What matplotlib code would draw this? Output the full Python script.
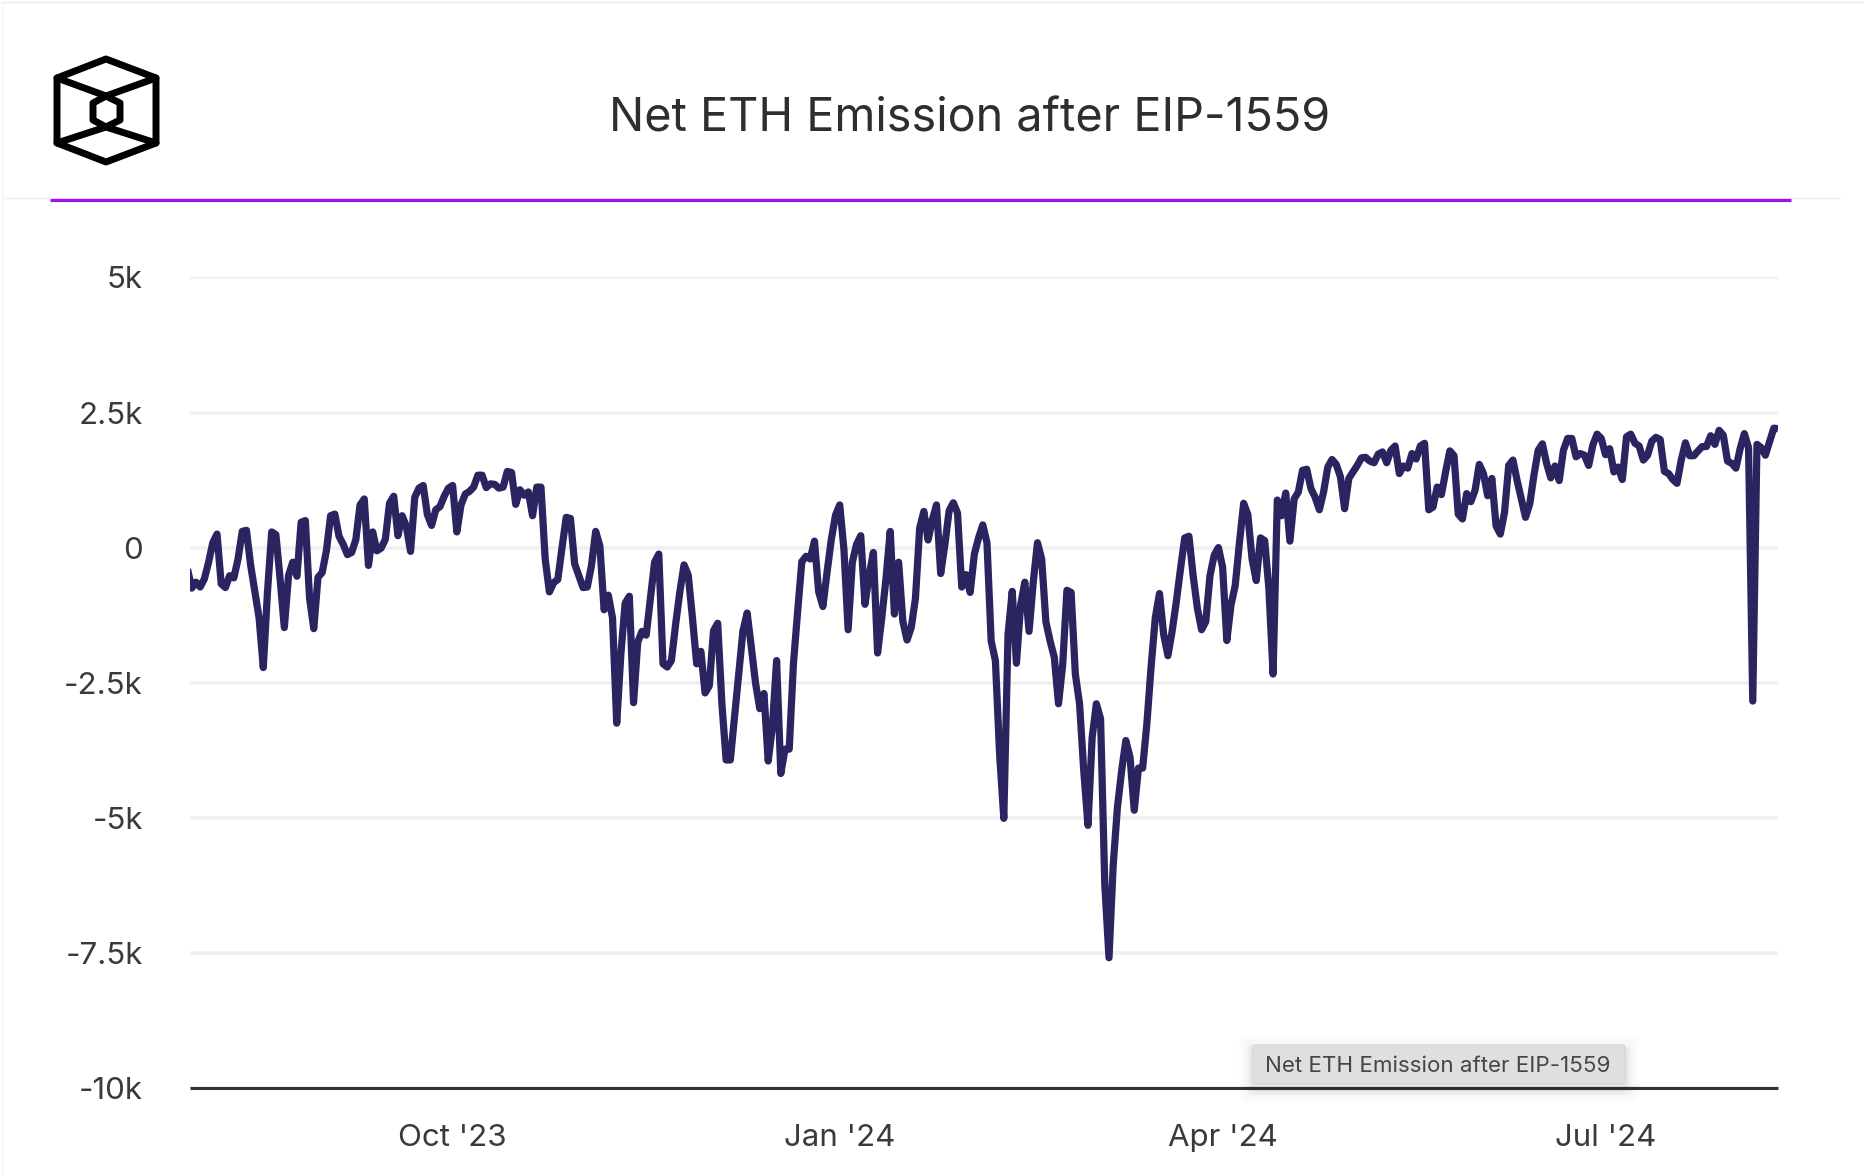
import matplotlib
matplotlib.use("Agg")
import matplotlib.pyplot as plt
import pandas as pd
from matplotlib.patches import FancyBboxPatch, Polygon
from matplotlib.lines import Line2D

W, H = 1866, 1176
TITLE = "Net ETH Emission after EIP-1559"
START_DATE = "2023-07-30"

net_emission_aug_oct = [
    -400, -750, -640, -730, -580, -270, 90, 250, -670, -740, -520, -560, -210, 300, 320, -330, -820, -1300, -2220,
    -820, 290, 240, -580, -1480, -520, -270, -530, 470, 500, -940, -1500, -550, -460, -60, 590, 620, 210, 60,
    -130, -90, 150, 790, 900, -330, 290, -60, -10, 150, 820, 950, 220, 590, 390, -70, 930, 1100, 1150, 610, 410,
    700, 760, 950, 1100, 1150, 290, 790, 990, 1040, 1120, 1340, 1340, 1110, 1180, 1170, 1100, 1120, 1410, 1390,
    800, 1070, 970, 1030, 590, 1120, 1120, -210, -820, -650, -590, 0, 560, 540, -300, -520, -740, -730,
]
net_emission_nov_jan = [
    -330, 300, 30, -1150, -880, -1300, -3250, -1960, -1030, -900, -2870, -1750, -1550, -1620, -940, -270, -120,
    -2150, -2210, -2090, -1420, -820, -320, -510, -1300, -2150, -1920, -2690, -2560, -1540, -1400, -2890, -3930,
    -3930, -3130, -2330, -1540, -1210, -1850, -2510, -2980, -2700, -3950, -3320, -2090, -4180, -3730, -3730,
    -2150, -1180, -260, -160, -210, 120, -820, -1090, -450, 150, 600, 790, -30, -1520, -270, 60, 220, -1050, -510,
    -90, -1950, -1300, -570, 300, -1230, -270, -1360, -1710, -1480, -940, 360, 670, 140, 510, 790, -480, 60, 680,
    830, 640, -730, -500, -830, -120, 180, 420, 90,
]
net_emission_feb_apr = [
    -1730, -2090, -3820, -5010, -1610, -810, -2140, -1060, -640, -1550, -640, 90, -210, -1370, -1730, -2030,
    -2890, -2160, -790, -830, -2340, -2890, -4130, -5140, -3510, -2890, -3170, -6240, -7590, -5870, -4810, -4130,
    -3570, -3880, -4860, -4080, -4080, -3260, -2210, -1300, -850, -1610, -2000, -1550, -1000, -390, 180, 210,
    -520, -1120, -1520, -1370, -520, -140, 0, -360, -1720, -1060, -700, 90, 820, 610, -210, -610, 180, 130, -760,
    -2340, 880, 590,
]
net_emission_apr_aug = [
    1010, 120, 900, 1030, 1430, 1450, 1090, 930, 700, 1030, 1490, 1630, 1540, 1310, 720, 1280, 1400, 1520, 1660,
    1670, 1600, 1570, 1730, 1770, 1570, 1800, 1880, 1370, 1510, 1470, 1740, 1640, 1880, 1930, 700, 750, 1120, 980,
    1400, 1790, 1700, 620, 530, 1000, 850, 1060, 1540, 1370, 960, 1280, 400, 250, 650, 1520, 1620, 1240, 900, 560,
    810, 1340, 1800, 1920, 1560, 1290, 1510, 1240, 1800, 2020, 2020, 1680, 1740, 1710, 1520, 1900, 2100, 2020,
    1720, 1830, 1400, 1490, 1260, 2050, 2100, 1930, 1880, 1620, 1710, 1970, 2040, 2000, 1410, 1370, 1260, 1190,
    1620, 1940, 1700, 1700, 1790, 1870, 1870, 2070, 1910, 2170, 2080, 1600, 1560, 1470, 1830, 2110, 1850, -2840,
    1910, 1850, 1710, 1960, 2210, 2200,
]
values = net_emission_aug_oct + net_emission_nov_jan + net_emission_feb_apr + net_emission_apr_aug
dates = pd.date_range(START_DATE, periods=len(values), freq="D")

y_ticks = [5000, 2500, 0, -2500, -5000, -7500, -10000]
y_tick_labels = ["5k", "2.5k", "0", "-2.5k", "-5k", "-7.5k", "-10k"]
x_ticks = pd.to_datetime(["2023-10-01", "2024-01-01", "2024-04-01", "2024-07-01"])
x_tick_labels = ["Oct '23", "Jan '24", "Apr '24", "Jul '24"]

INK = "#2a2560"
TEXT = "#3a3a3c"
plt.rcParams["font.family"] = ["Inter", "DejaVu Sans"]

fig = plt.figure(figsize=(W / 100, H / 100), dpi=100, facecolor="#ffffff")

# page overlay in pixel coordinates (decoration only)
page = fig.add_axes([0, 0, 1, 1], zorder=0)
page.set_xlim(0, W)
page.set_ylim(H, 0)
page.axis("off")
page.add_line(Line2D([1.5, 1.5], [7, H], color="#f4f4f6", lw=1))
page.add_line(Line2D([2, W - 4], [2, 2], color="#f4f4f6", lw=2))
page.add_line(Line2D([3, 1840], [198, 198], color="#f8eaff", lw=1))
page.add_line(Line2D([50, 1791], [200, 200], color="#a010ee", lw=2.3, solid_capstyle="butt"))

LOGO = dict(color="black", lw=5, solid_joinstyle="round", solid_capstyle="round")
page.add_patch(Polygon([(106, 59), (156, 78), (156, 143), (106, 162), (57, 143), (57, 78)],
                       closed=True, fill=False, ec="black", lw=5, joinstyle="round"))
page.add_patch(Polygon([(106, 96), (120, 103), (120, 120), (106, 127), (93, 120), (93, 103)],
                       closed=True, fill=False, ec="black", lw=5, joinstyle="round"))
page.add_line(Line2D([57, 106, 156], [78, 96, 78], **LOGO))
page.add_line(Line2D([57, 106, 156], [143, 127, 143], **LOGO))

page.text(970, 119.5, TITLE, ha="center", va="center", fontsize=33.7, color="#2e2e30")

# chart
L, R, T, B = 190, 1778, 277.4, 1088
ax = fig.add_axes([L / W, 1 - B / H, (R - L) / W, (B - T) / H], zorder=1)
ax.patch.set_alpha(0)
ax.plot(dates, values, color=INK, lw=5.2, solid_joinstyle="round", solid_capstyle="butt", zorder=3)
ax.set_xlim(pd.Timestamp("2023-07-30 14:00"), dates[-1])
ax.set_ylim(-10000, 5000)
ax.set_yticks(y_ticks, y_tick_labels)
ax.set_xticks(x_ticks, x_tick_labels)
ax.grid(axis="y", color="#efefef", lw=2.6, zorder=1)
ax.tick_params(axis="both", length=0, labelsize=22.5, labelcolor=TEXT)
ax.tick_params(axis="y", pad=34)
ax.tick_params(axis="x", pad=26)
for s in ("top", "left", "right"):
    ax.spines[s].set_visible(False)
ax.spines["bottom"].set_color("#333335")
ax.spines["bottom"].set_linewidth(2.2)
ax.spines["bottom"].set_capstyle("butt")

# legend chip in pixel coordinates
over = fig.add_axes([0, 0, 1, 1], zorder=2)
over.set_xlim(0, W)
over.set_ylim(H, 0)
over.axis("off")
for grow, alpha in ((14, 0.012), (10, 0.018), (6, 0.03), (3, 0.04)):
    over.add_patch(FancyBboxPatch((1253 - grow, 1045 - grow + 5), 372 + 2 * grow, 39 + 2 * grow,
                                  boxstyle="round,pad=0,rounding_size=6", fc="black", ec="none", alpha=alpha))
over.add_patch(FancyBboxPatch((1253, 1045), 372, 39, boxstyle="round,pad=0,rounding_size=3",
                              fc="#dfdfde", ec="#d6d6d6", lw=0.8))
over.text(1438, 1066, TITLE, ha="center", va="center", fontsize=16.1, color="#45454a")

fig.savefig("out.png", dpi=100, facecolor=fig.get_facecolor())
